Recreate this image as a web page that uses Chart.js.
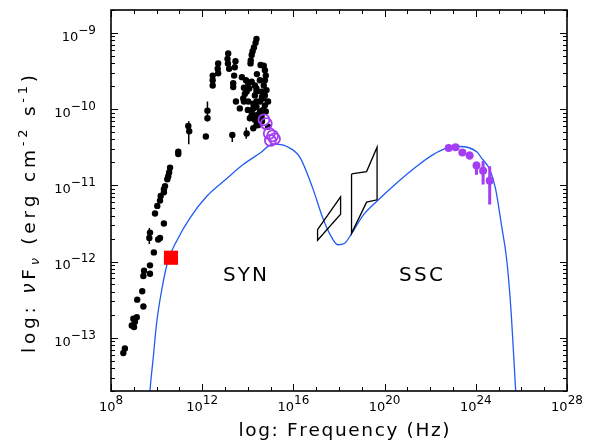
<!DOCTYPE html>
<html lang="en">
<head>
<meta charset="UTF-8">
<title>SED - SYN / SSC</title>
<script src="https://cdn.jsdelivr.net/npm/chart.js"></script>
<style>
    body { margin: 0; background: #ffffff; }
    #sed { display: block; }
</style>
</head>
<body>
<canvas id="sed" width="592" height="444"></canvas>
<script>
// all values are log10(nu / Hz) and log10(nuFnu / erg cm-2 s-1)

// SYN + SSC model curve
const modelNu = [9.65, 9.71, 9.85, 10.00, 10.22, 10.50, 10.88, 11.46, 12.21, 13.08, 13.78, 14.53, 15.10, 15.71,
    16.28, 16.85, 17.29, 17.60, 17.95, 18.25, 18.56, 19.04, 19.66, 20.53, 21.41, 22.11, 22.86, 23.29,
    24.04, 24.30, 24.61, 24.87, 25.13, 25.35, 25.53, 25.75, 25.81];
const modelF = [-14.0, -13.70, -13.27, -12.81, -12.38, -11.99, -11.73, -11.43, -11.14, -10.91, -10.73, -10.58, -10.46, -10.49,
    -10.63, -11.04, -11.43, -11.64, -11.78, -11.76, -11.63, -11.40, -11.21, -10.97, -10.75, -10.60, -10.50, -10.49,
    -10.56, -10.66, -10.79, -11.05, -11.53, -11.96, -12.58, -13.70, -14.0];

// archival radio / optical / UV points (black)
const archNu = [14.38, 14.34, 14.27, 14.21, 14.17, 14.13, 14.12, 13.14, 13.11, 13.13, 13.18, 13.46, 13.43, 13.40,
    13.36, 13.36, 12.70, 12.68, 12.70, 12.46, 12.46, 12.46, 14.70, 14.75, 14.79, 14.75, 14.70, 13.92,
    14.02, 14.17, 14.31, 14.38, 14.06, 14.56, 13.48, 13.65, 13.80, 14.02, 13.95, 14.31, 14.38, 14.24,
    14.17, 14.09, 14.38, 14.24, 13.95, 14.60, 14.67, 14.75, 14.89, 14.53, 14.60, 14.45, 12.23, 12.23,
    12.16, 11.39, 11.43, 13.32, 14.24, 14.38, 14.53, 14.67, 14.17, 14.38, 14.60, 14.31, 14.45, 14.75,
    14.82, 13.87, 14.38, 14.89, 13.83, 14.62, 14.79, 14.00, 14.62, 13.83, 14.40, 14.53, 13.74,
    10.95, 10.95, 10.59, 10.55, 10.51, 10.47, 10.37, 10.32, 10.32, 10.18, 10.15, 10.03, 9.93, 10.32,
    9.71, 9.68, 10.15, 10.07, 9.88, 9.71, 9.45, 9.42, 9.71, 9.37, 9.15, 9.42, 8.98, 9.05, 8.91, 9.01,
    9.13, 8.61, 8.54];
const archF = [-9.08, -9.13, -9.19, -9.24, -9.29, -9.36, -9.40, -9.27, -9.34, -9.40, -9.47, -9.37, -9.45, -9.56,
    -9.66, -9.71, -9.40, -9.47, -9.53, -9.56, -9.62, -9.69, -9.43, -9.49, -9.56, -9.62, -9.69, -9.62,
    -9.66, -9.64, -9.69, -9.73, -9.73, -9.42, -9.90, -9.99, -9.86, -9.90, -9.77, -9.82, -9.90, -9.99,
    -10.08, -10.12, -10.21, -10.25, -10.32, -9.77, -9.86, -9.95, -9.90, -10.03, -10.12, -10.16, -10.02, -10.12,
    -10.36, -10.22, -10.29, -10.34, -9.93, -9.97, -9.90, -10.01, -10.03, -10.08, -10.08, -10.14, -10.21, -9.82,
    -9.75, -9.80, -9.77, -10.23, -9.72, -9.84, -10.03, -10.01, -10.16, -9.90, -9.54, -9.62, -9.58,
    -10.56, -10.59, -10.77, -10.83, -10.88, -10.92, -11.01, -11.05, -11.09, -11.14, -11.20, -11.27, -11.37, -11.50,
    -11.62, -11.69, -11.69, -11.71, -11.88, -12.05, -12.12, -12.19, -12.16, -12.39, -12.50, -12.59, -12.75, -12.79, -12.84, -12.86,
    -12.73, -13.14, -13.20];
const archErrNu = [12.23, 11.41, 13.32, 13.93, 9.68];
const archErrLo = [-10.16, -10.46, -10.43, -10.39, -11.77];
const archErrHi = [-9.90, -10.16, -10.30, -10.24, -11.56];

// X-ray bow ties
const bowA_Nu = [17.06, 18.07, 18.07, 17.06];
const bowA_F = [-11.58, -11.15, -11.38, -11.72];
const bowB_Nu = [18.55, 19.21, 19.67, 19.67, 19.21, 18.55];
const bowB_F = [-10.85, -10.82, -10.50, -11.19, -11.22, -11.63];

// gamma-ray points (purple)
const gamNu = [22.81, 23.11, 23.41, 23.73, 24.03, 24.32, 24.61];
const gamF = [-10.51, -10.50, -10.57, -10.61, -10.74, -10.81, -10.94];
const gamLo = [-10.55, -10.54, -10.61, -10.66, -10.86, -10.99, -11.25];
const gamHi = [-10.49, -10.48, -10.53, -10.56, -10.69, -10.68, -10.75];

// UV open circles (purple)
const uvNu = [14.71, 14.81, 14.94, 15.09, 15.17, 14.99];
const uvF = [-10.14, -10.19, -10.32, -10.35, -10.39, -10.41];

// radio core (red square)
const radioNu = [10.63];
const radioF = [-11.95];

const xMajor = [8, 12, 16, 20, 24, 28];
const yMajor = [-13, -12, -11, -10, -9];
const xMin = 1e8, xMax = 1e28, yMin = 2e-14, yMax = 2e-9;

const PURPLE = '#a33ef2';
const BLUE = '#1f5cf2';

function pts(nu, f) {
    return nu.map((v, i) => ({ x: Math.pow(10, v), y: Math.pow(10, f[i]) }));
}
function closed(nu, f) {
    const p = pts(nu, f);
    p.push(p[0]);
    return p;
}
function bars(nu, lo, hi) {
    const d = [];
    for (let i = 0; i < nu.length; i++) {
        const x = Math.pow(10, nu[i]);
        d.push({ x: x, y: Math.pow(10, lo[i]) }, { x: x, y: Math.pow(10, hi[i]) }, { x: x, y: null });
    }
    return d;
}

// text drawn char by char so the wide plotting font can be imitated
function fontOf(r) {
    return (r[3] ? 'italic ' : '') + r[1] + 'px "DejaVu Sans"';
}
function runsWidth(ctx, runs) {
    let w = 0, n = 0;
    for (const r of runs) {
        ctx.font = fontOf(r);
        for (const ch of r[0]) { w += ctx.measureText(ch).width; n++; }
    }
    return { w: w, n: n };
}
function drawRuns(ctx, runs, x, y, align, target) {
    const m = runsWidth(ctx, runs);
    const sp = target ? (target - m.w) / (m.n - 1) : 0;
    const total = m.w + sp * (m.n - 1);
    let cx = align === 'center' ? x - total / 2 : (align === 'right' ? x - total : x);
    ctx.textAlign = 'left';
    ctx.textBaseline = 'alphabetic';
    for (const r of runs) {
        ctx.font = fontOf(r);
        for (const ch of r[0]) {
            ctx.fillText(ch, cx, y + (r[2] || 0));
            cx += ctx.measureText(ch).width + sp;
        }
    }
}
function expLabel(e) {
    return [['10', 13, 0], [String(e).replace('-', '\u2212'), 12, -7]];
}

const framePlugin = {
    id: 'frame',
    afterDraw(chart) {
        const ctx = chart.ctx, a = chart.chartArea;
        const xs = chart.scales.x, ys = chart.scales.y;
        ctx.save();
        ctx.strokeStyle = '#000';
        ctx.fillStyle = '#000';
        ctx.lineWidth = 1;
        const seg = (x1, y1, x2, y2) => { ctx.beginPath(); ctx.moveTo(x1, y1); ctx.lineTo(x2, y2); ctx.stroke(); };

        // x ticks, every decade, long ones on the labelled decades
        for (let d = 8; d <= 28; d++) {
            const px = Math.round(xs.getPixelForValue(Math.pow(10, d))) + 0.5;
            const len = xMajor.includes(d) ? 7 : 4;
            seg(px, a.bottom, px, a.bottom - len);
            seg(px, a.top, px, a.top + len);
        }
        // y ticks, decades and 2..9
        for (let d = -14; d <= -9; d++) {
            for (let k = 1; k <= 9; k++) {
                const v = k * Math.pow(10, d);
                if (v < yMin || v > yMax) continue;
                const py = Math.round(ys.getPixelForValue(v)) + 0.5;
                const len = k === 1 ? 7 : 4;
                seg(a.left, py, a.left + len, py);
                seg(a.right, py, a.right - len, py);
            }
        }
        ctx.lineWidth = 1.6;
        ctx.strokeRect(a.left, a.top, a.right - a.left, a.bottom - a.top);

        // tick labels
        for (const d of xMajor) {
            const px = xs.getPixelForValue(Math.pow(10, d));
            drawRuns(ctx, expLabel(d), px, a.bottom + 19.5, 'center');
        }
        for (const d of yMajor) {
            const py = ys.getPixelForValue(Math.pow(10, d));
            drawRuns(ctx, expLabel(d), 96, py + 7.8, 'right');
        }

        // axis titles
        drawRuns(ctx, [['log: Frequency (Hz)', 18.5, 0]], 344, 436, 'center', 211);
        ctx.save();
        ctx.translate(35, 214);
        ctx.rotate(-Math.PI / 2);
        drawRuns(ctx, [
            ['log: ', 18.5, 0], ['\u03bd', 18.5, 0, true], ['F', 18.5, 0], ['\u03bd', 13, 4, true],
            [' (erg cm', 18.5, 0], ['-2', 13, -8], [' s', 18.5, 0], ['-1', 13, -8], [')', 18.5, 0]
        ], 0, 0, 'center', 278);
        ctx.restore();

        // component labels
        drawRuns(ctx, [['SYN', 20, 0]], 245, 281, 'center', 44);
        drawRuns(ctx, [['SSC', 20, 0]], 421, 281, 'center', 44);
        ctx.restore();
    }
};

new Chart(document.getElementById('sed'), {
    type: 'scatter',
    data: {
        datasets: [
            {
                label: 'radio core',
                data: pts(radioNu, radioF),
                pointStyle: 'rect',
                pointRadius: 10,
                backgroundColor: '#ff0000',
                borderWidth: 0,
                order: 0
            },
            {
                label: 'UV',
                data: pts(uvNu, uvF),
                pointRadius: 5.5,
                backgroundColor: 'rgba(0,0,0,0)',
                borderColor: PURPLE,
                borderWidth: 1.8,
                order: 1
            },
            {
                label: 'gamma',
                data: pts(gamNu, gamF),
                pointRadius: 4,
                backgroundColor: PURPLE,
                borderWidth: 0,
                order: 1
            },
            {
                label: 'gamma err',
                data: bars(gamNu, gamLo, gamHi),
                showLine: true,
                spanGaps: false,
                borderColor: PURPLE,
                borderWidth: 3,
                pointRadius: 0,
                order: 1
            },
            {
                label: 'archival',
                data: pts(archNu, archF),
                pointRadius: 3.2,
                backgroundColor: '#000',
                borderWidth: 0,
                order: 2
            },
            {
                label: 'archival err',
                data: bars(archErrNu, archErrLo, archErrHi),
                showLine: true,
                spanGaps: false,
                borderColor: '#000',
                borderWidth: 1.5,
                pointRadius: 0,
                order: 2
            },
            {
                label: 'bow tie A',
                data: closed(bowA_Nu, bowA_F),
                showLine: true,
                borderColor: '#000',
                borderWidth: 1.3,
                pointRadius: 0,
                order: 3
            },
            {
                label: 'bow tie B',
                data: closed(bowB_Nu, bowB_F),
                showLine: true,
                borderColor: '#000',
                borderWidth: 1.3,
                pointRadius: 0,
                order: 3
            },
            {
                label: 'model',
                data: pts(modelNu, modelF),
                showLine: true,
                cubicInterpolationMode: 'monotone',
                borderColor: BLUE,
                borderWidth: 1.3,
                pointRadius: 0,
                order: 5
            }
        ]
    },
    options: {
        responsive: false,
        animation: false,
        devicePixelRatio: 1,
        layout: { padding: { left: 111, right: 25, top: 7.5, bottom: 53 } },
        plugins: { legend: { display: false }, tooltip: { enabled: false } },
        scales: {
            x: { type: 'logarithmic', min: xMin, max: xMax, display: false },
            y: { type: 'logarithmic', min: yMin, max: yMax, display: false }
        }
    },
    plugins: [framePlugin]
});
</script>
</body>
</html>
